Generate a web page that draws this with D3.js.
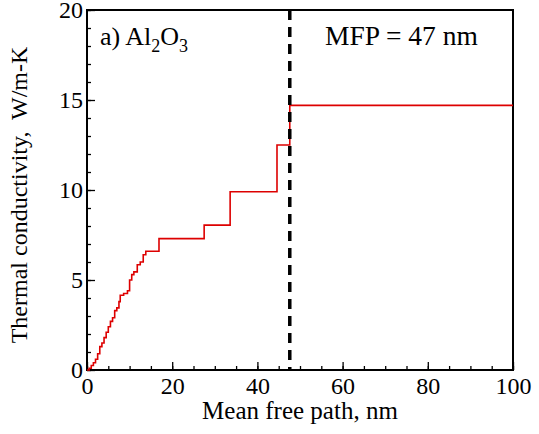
<!DOCTYPE html>
<html>
<head>
<meta charset="utf-8">
<script src="https://cdn.jsdelivr.net/npm/d3@7"></script>
<style>
  body { margin: 0; background: #fff; }
  text { font-family: "Liberation Serif", "DejaVu Serif", serif; fill: #000; }
</style>
</head>
<body>
<svg id="chart" width="539" height="434"></svg>
<script>
// step points: mean free path (nm) and cumulative k (W/m-K)
let mfp = [0, 0.5, 1, 1.5, 2, 2.5, 3, 3.5, 4, 4.5, 5, 5.5, 6, 6.5, 7, 7.5, 7.8, 8.6, 9.5,
           10.0, 10.5, 11.0, 11.8, 12.5, 13.2, 13.8, 16.9, 27.5, 33.6, 44.6, 47.6, 100];
let kCum = [0, 0.1, 0.25, 0.4, 0.6, 0.9, 1.3, 1.5, 1.8, 2.1, 2.4, 2.7, 2.9, 3.3, 3.45, 3.8, 4.15, 4.25, 4.4,
            5.0, 5.3, 5.45, 5.85, 6.0, 6.4, 6.6, 7.3, 8.05, 9.9, 12.5, 14.7, 14.7];
let mfpMark = 47.6;
let xTicks = [0, 20, 40, 60, 80, 100];
let yTicks = [0, 5, 10, 15, 20];

// margins: plot box runs 87..513 by 10..370
let margin = {top: 10, right: 26, bottom: 64, left: 87},
    width = 539 - margin.left - margin.right,
    height = 434 - margin.top - margin.bottom;

let x = d3.scaleLinear().domain([0, 100]).range([0, width]);
let y = d3.scaleLinear().domain([0, 20]).range([height, 0]);

let svg = d3.select("#chart")
  .append("g")
  .attr("transform", "translate(" + margin.left + "," + margin.top + ")");

// minor ticks first (inward, no labels)
svg.append("g")
    .attr("transform", "translate(0," + height + ")")
    .call(d3.axisBottom(x).tickValues(d3.range(0, 101, 5)).tickSize(-4).tickFormat(""))
    .call(g => g.select(".domain").remove());
svg.append("g")
    .call(d3.axisLeft(y).tickValues(d3.range(0, 21, 1)).tickSize(-4).tickFormat(""))
    .call(g => g.select(".domain").remove());

// major ticks
let xAxis = svg.append("g")
    .attr("transform", "translate(0," + height + ")")
    .call(d3.axisBottom(x).tickValues(xTicks).tickSize(-8).tickPadding(4).tickFormat(d3.format("d")));
xAxis.select(".domain").remove();
xAxis.selectAll("text").attr("dy", "0.85em");

let yAxis = svg.append("g")
    .call(d3.axisLeft(y).tickValues(yTicks).tickSize(-8).tickPadding(4).tickFormat(d3.format("d")));
yAxis.select(".domain").remove();
yAxis.selectAll("text").attr("dy", "0.33em");

svg.selectAll(".tick text").style("font-size", "24px").style("font-family", "Liberation Serif");
svg.selectAll(".tick line").attr("stroke", "#000").attr("stroke-width", 1.3);

// frame
svg.append("rect")
    .attr("width", width).attr("height", height)
    .attr("fill", "none").attr("stroke", "#000").attr("stroke-width", 2);

// cumulative curve
let pts = mfp.map((d, i) => [d, kCum[i]]);
svg.append("path")
    .datum(pts)
    .attr("fill", "none")
    .attr("stroke", "#dd0000")
    .attr("stroke-width", 1.6)
    .attr("d", d3.line().x(d => x(d[0])).y(d => y(d[1])).curve(d3.curveStepAfter));

// dashed marker
svg.append("line")
    .attr("x1", x(mfpMark)).attr("x2", x(mfpMark))
    .attr("y1", 0).attr("y2", height)
    .attr("stroke", "#000").attr("stroke-width", 3.5)
    .attr("stroke-dasharray", "10,7");

// labels
svg.append("text")
    .attr("x", 238).attr("y", 35)
    .style("font-size", "27.5px")
    .text("MFP = 47 nm");

let lab = svg.append("text")
    .attr("x", 13).attr("y", 35)
    .style("font-size", "26px");
lab.append("tspan").text("a) Al");
lab.append("tspan").attr("dy", 7).style("font-size", "18px").text("2");
lab.append("tspan").attr("dy", -7).text("O");
lab.append("tspan").attr("dy", 7).style("font-size", "18px").text("3");

svg.append("text")
    .attr("x", width / 2).attr("y", height + 49)
    .attr("text-anchor", "middle")
    .style("font-size", "25px")
    .text("Mean free path, nm");

svg.append("text")
    .attr("transform", "rotate(-90)")
    .attr("x", -185).attr("y", -60)
    .attr("text-anchor", "middle")
    .style("font-size", "24px")
    .style("white-space", "pre")
    .text("Thermal conductivity,  W/m-K");
</script>
</body>
</html>
